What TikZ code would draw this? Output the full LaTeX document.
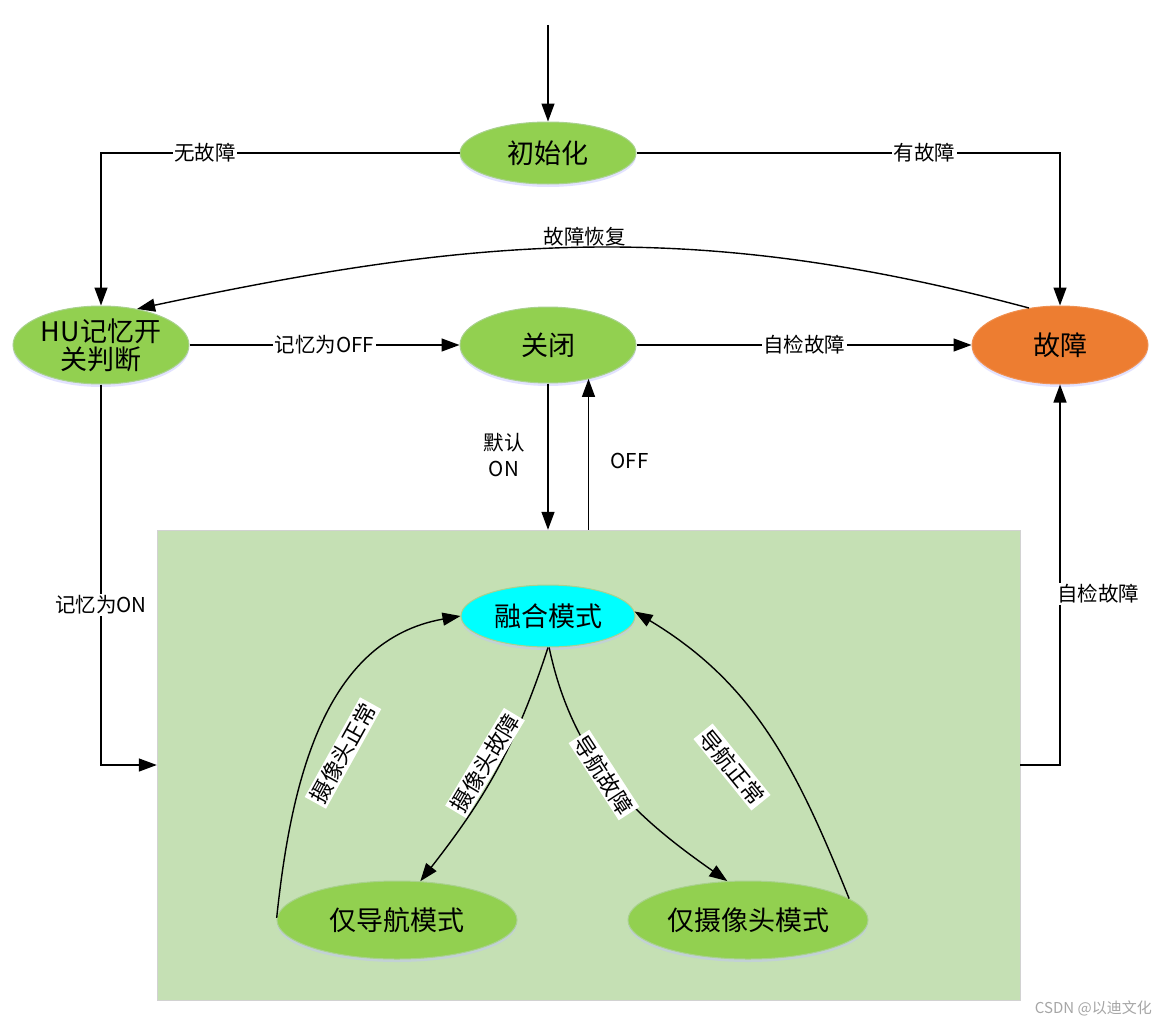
\documentclass[tikz,border=0pt]{standalone}
\usepackage{fontspec}
\setmainfont{Noto Sans CJK SC}
\usetikzlibrary{arrows.meta,shapes.geometric,shadows,calc}
\definecolor{stgreen}{HTML}{92D050}
\definecolor{stgreenedge}{HTML}{A9D18E}
\definecolor{storange}{HTML}{ED7D31}
\definecolor{stcyan}{HTML}{00FFFF}
\definecolor{boxgreen}{HTML}{C5E0B4}
\tikzset{
  state/.style={ellipse, inner sep=0pt, minimum width=176pt, minimum height=78pt,
    fill=stgreen, draw=stgreenedge, line width=1pt, align=center,
    font=\fontsize{27}{32}\selectfont,
    drop shadow={shadow xshift=0pt, shadow yshift=-3pt, fill=blue!25, opacity=0.45}},
  lbl/.style={fill=white, inner sep=1.5pt, font=\fontsize{20.5}{26}\selectfont, align=center},
  rlbl/.style={fill=white, inner sep=2pt, font=\fontsize{22}{26}\selectfont},
  plainlbl/.style={inner sep=1pt, font=\fontsize{20.5}{26}\selectfont, align=center},
  conn/.style={line width=1.4pt, -{Triangle[length=18pt,width=13pt]}},
}
\begin{document}
\begin{tikzpicture}[x=1pt,y=1pt]
\useasboundingbox (0,0) rectangle (1167,-1025);
\fill[white] (0,0) rectangle (1167,-1025);
% big box
\node[rectangle, draw=gray!35, fill=boxgreen, minimum width=863pt, minimum height=470pt, inner sep=0pt] (box) at (588.5,-765) {};
\node[anchor=south east, text=gray!70, font=\fontsize{15}{18}\selectfont, inner sep=0pt] (csdn) at (1152,-1016) {CSDN @以迪文化};
% states
\node[state, minimum height=62pt] (init) at (548,-153) {初始化};
\node[state] (hu) at (101,-345) {HU记忆开\\[-4pt]关判断};
\node[state, minimum height=76pt] (off) at (548,-345) {关闭};
\node[state, fill=storange, draw=storange!85!white] (fault) at (1060,-345) {故障};
\node[state, fill=stcyan, draw=stgreenedge, minimum width=174pt, minimum height=62pt] (fuse) at (548,-616) {融合模式};
\node[state, minimum width=240pt] (nav) at (397,-920) {仅导航模式};
\node[state, minimum width=240pt] (cam) at (748,-920) {仅摄像头模式};
% entry
\coordinate (start) at (548,-25);
\draw[conn] (start) -- (init.north);
% top connectors
\draw[conn] (init.west) -| node[lbl, pos=0.355] {无故障} (hu.north);
\draw[conn] (init.east) -| node[lbl, pos=0.34] {有故障} (fault.north);
% recovery curve
\draw[conn] (fault.130) to[out=165, in=12] node[plainlbl, pos=0.5, above=0pt] {故障恢复} (hu.45);
% middle row
\draw[conn] (hu.east) -- node[lbl, pos=0.5] {记忆为OFF} (off.west);
\draw[conn] (off.east) -- node[lbl, pos=0.5] {自检故障} (fault.west);
% off <-> box
\draw[conn] (off.south) -- node[plainlbl, pos=0.49, xshift=-44pt] {默认\\ON} (off.south |- box.north);
\draw[conn] (box.north) -- node[plainlbl, pos=0.456, xshift=41pt] {OFF} (box.north |- off.-39.3);
% hu -> box
\draw[conn] (hu.south) |- node[lbl, pos=0.29] {记忆为ON} (box.west);
% box -> fault
\draw[conn] (box.east) -| node[lbl, pos=0.725, xshift=38pt] {自检故障} (fault.south);
% inner transitions
\draw[conn] (fuse.south) to[out=-108, in=52] (nav.59);
\draw[conn] (fuse.-88) to[out=-78, in=145] (cam.118);
\draw[conn] (nav.179) to[out=84, in=190] (fuse.180);
\draw[conn] (cam.12) to[out=112, in=-31] (fuse.3);
% inner labels
\node[rlbl, rotate=59] (lcamf) at (485,-763) {摄像头故障};
\node[rlbl, rotate=-57] (lnavf) at (604,-775) {导航故障};
\node[rlbl, rotate=61] (lcamok) at (343,-753) {摄像头正常};
\node[rlbl, rotate=-51] (lnavok) at (732,-767) {导航正常};
\end{tikzpicture}
\end{document}
